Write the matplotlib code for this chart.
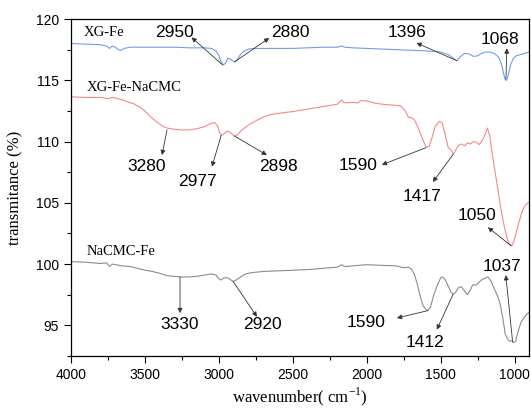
import matplotlib
matplotlib.use('Agg')
import matplotlib.pyplot as plt
from matplotlib.ticker import MultipleLocator

plt.rcParams['mathtext.fontset'] = 'custom'
plt.rcParams['mathtext.rm'] = 'Liberation Serif'

# wavenumber (cm-1) and transmittance (%)
xg_x = [4000, 3900, 3800, 3760, 3740, 3720, 3700, 3680, 3660, 3640,
        3600, 3500, 3400, 3300, 3200, 3100, 3050, 3020, 3000, 2985,
        2970, 2955, 2940, 2925, 2910, 2895, 2880, 2860, 2840, 2800,
        2750, 2700, 2600, 2500, 2400, 2300, 2200, 2170, 2160, 2150,
        2100, 2000, 1900, 1800, 1700, 1600, 1550, 1500, 1450, 1420,
        1400, 1390, 1370, 1340, 1310, 1280, 1250, 1225, 1200, 1170,
        1140, 1110, 1090, 1075, 1065, 1055, 1045, 1030, 1010, 990,
        960, 930, 900]
xg_y = [118.0, 117.95, 117.9, 117.8, 117.6, 117.8, 117.7, 117.5, 117.45, 117.6,
        117.7, 117.7, 117.7, 117.7, 117.65, 117.65, 117.6, 117.4, 117.0, 116.5,
        116.25, 116.4, 116.8, 116.75, 116.6, 116.5, 116.6, 117.0, 117.3, 117.55,
        117.6, 117.6, 117.6, 117.6, 117.65, 117.7, 117.7, 117.8, 117.75, 117.7,
        117.65, 117.6, 117.55, 117.5, 117.45, 117.4, 117.35, 117.3, 117.1, 116.85,
        116.65, 116.6, 116.9, 117.2, 117.15, 116.95, 117.0, 117.2, 117.3, 117.3,
        117.2, 116.9, 116.3, 115.5, 115.05, 115.0, 115.4, 116.2, 116.8, 117.0,
        117.1, 117.2, 117.35]

mix_x = [4000, 3900, 3800, 3750, 3720, 3700, 3650, 3620, 3580, 3540,
         3500, 3460, 3420, 3380, 3350, 3300, 3250, 3200, 3150, 3100,
         3060, 3030, 3010, 2995, 2980, 2960, 2945, 2930, 2910, 2895,
         2880, 2850, 2800, 2750, 2700, 2650, 2600, 2500, 2400, 2300,
         2200, 2170, 2160, 2140, 2100, 2060, 2040, 2000, 1950, 1900,
         1850, 1800, 1770, 1740, 1720, 1700, 1680, 1660, 1640, 1620,
         1600, 1580, 1560, 1540, 1510, 1490, 1470, 1450, 1430, 1415,
         1400, 1380, 1360, 1340, 1320, 1300, 1280, 1260, 1240, 1220,
         1200, 1185, 1170, 1150, 1120, 1090, 1070, 1050, 1035, 1020,
         1005, 990, 970, 950, 930, 910, 900]
mix_y = [113.65, 113.6, 113.6, 113.5, 113.6, 113.55, 113.4, 113.25, 113.1, 112.85,
         112.5, 112.0, 111.6, 111.25, 111.1, 111.0, 110.95, 110.95, 111.05, 111.2,
         111.45, 111.55, 111.3, 110.7, 110.5, 110.7, 110.85, 110.8, 110.6, 110.45,
         110.5, 110.9, 111.35, 111.7, 112.0, 112.2, 112.3, 112.45, 112.65, 112.85,
         113.05, 113.4, 113.2, 113.15, 113.2, 113.15, 113.35, 113.3, 113.15, 113.05,
         113.0, 112.95, 112.9, 112.5, 112.0, 111.95, 111.8, 111.3, 110.7, 110.1,
         109.55, 109.6, 110.3, 111.2, 111.65, 111.5, 110.5, 109.5, 109.3, 108.95,
         109.3, 109.7, 109.8, 109.65, 109.9, 109.8, 110.0, 109.95, 109.75, 110.1,
         110.6, 111.1, 110.5, 108.8, 106.5, 104.2, 103.0, 102.0, 101.6, 101.5,
         101.9, 102.6, 103.5, 104.3, 104.8, 105.0, 105.1]

cmc_x = [4000, 3900, 3800, 3760, 3740, 3720, 3700, 3650, 3600, 3550,
         3500, 3450, 3400, 3350, 3300, 3250, 3200, 3150, 3100, 3050,
         3020, 3000, 2985, 2970, 2950, 2935, 2920, 2905, 2890, 2860,
         2820, 2780, 2700, 2600, 2500, 2400, 2300, 2200, 2170, 2160,
         2140, 2100, 2050, 2000, 1900, 1800, 1750, 1720, 1700, 1680,
         1660, 1640, 1620, 1600, 1588, 1570, 1550, 1520, 1500, 1485,
         1470, 1450, 1430, 1415, 1400, 1380, 1360, 1340, 1320, 1300,
         1285, 1260, 1240, 1220, 1200, 1182, 1160, 1140, 1120, 1100,
         1080, 1065, 1050, 1035, 1020, 1010, 995, 980, 960, 940,
         920, 900]
cmc_y = [100.2, 100.15, 100.05, 100.1, 99.8, 100.0, 99.95, 99.85, 99.8, 99.65,
         99.5, 99.4, 99.25, 99.05, 99.0, 98.95, 98.95, 99.0, 99.1, 99.2,
         99.1, 98.8, 98.7, 98.85, 98.9, 98.85, 98.7, 98.6, 98.65, 98.9,
         99.2, 99.3, 99.4, 99.45, 99.5, 99.55, 99.65, 99.75, 99.95, 99.85,
         99.8, 99.85, 99.9, 99.95, 99.9, 99.85, 99.7, 99.75, 99.6, 99.2,
         98.4, 97.4, 96.6, 96.3, 96.2, 96.5, 97.4, 98.4, 98.9, 98.95,
         98.7, 98.2, 97.7, 97.55, 97.7, 98.1, 98.15, 97.8, 97.5, 97.9,
         98.3, 98.3, 98.55, 98.75, 98.85, 98.95, 98.6, 98.0, 97.5, 96.8,
         95.5, 94.3, 93.9, 93.7, 93.75, 93.6, 93.7, 94.4, 95.2, 95.6,
         95.9, 96.1]

# peak labels: text, peak point, arrow head, text position
peak_labels = ['2950', '2880', '1396', '1068',
               '3280', '2977', '2898', '1590', '1417', '1050',
               '3330', '2920', '1590', '1412', '1037']
peak_from = [(2975, 116.25), (2895, 116.5), (1392, 116.6), (1060, 115.1),
             (3351, 110.95), (2985, 110.5), (2895, 110.45), (1601, 109.5), (1417, 108.95), (1025, 101.5),
             (3263, 98.95), (2905, 98.6), (1588, 96.2), (1417, 97.55), (1015, 93.65)]
peak_head = [(3185, 118.5), (2660, 118.45), (1665, 118.05), (1054, 117.6),
             (3385, 108.9), (3047, 107.95), (2676, 108.9), (1899, 108.1), (1554, 106.7), (1182, 103.0),
             (3263, 96.0), (2743, 95.7), (1797, 95.6), (1527, 94.65), (1061, 99.1)]
peak_text = [(3297, 118.86), (2520, 118.86), (1730, 118.86), (1101, 118.3),
             (3486, 107.95), (3142, 106.7), (2600, 107.96), (2061, 108.05), (1629, 105.5), (1257, 104.0),
             (3263, 95.05), (2703, 95.05), (2007, 95.2), (1608, 93.6), (1088, 99.8)]

series_names = ['XG-Fe', 'XG-Fe-NaCMC', 'NaCMC-Fe']
name_pos = [(3915, 118.86), (3895, 114.45), (3895, 101.0)]
colors = ['#6f9fe8', '#f08a8a', '#8c8c8c']

fig = plt.figure(figsize=(5.31, 4.09), dpi=100)
ax = fig.add_axes([0.1337, 0.1296, 0.8623, 0.8239])

ax.plot(xg_x, xg_y, color=colors[0], lw=0.8)
ax.plot(mix_x, mix_y, color=colors[1], lw=0.8)
ax.plot(cmc_x, cmc_y, color=colors[2], lw=0.8)

for lab, p0, p1, pt in zip(peak_labels, peak_from, peak_head, peak_text):
    ax.annotate('', xy=p1, xytext=p0,
                arrowprops=dict(arrowstyle='-|>', color='#333333', lw=0.6,
                                mutation_scale=7, shrinkA=0, shrinkB=0))
    ax.text(pt[0], pt[1], lab, fontsize=12.5, family='Liberation Sans',
            ha='center', va='center')

for name, pos in zip(series_names, name_pos):
    ax.text(pos[0], pos[1], name, fontsize=10.5, family='Liberation Serif',
            ha='left', va='center')

ax.set_xlim(4000, 905)
ax.set_ylim(92.5, 120)
ax.xaxis.set_major_locator(MultipleLocator(500))
ax.xaxis.set_minor_locator(MultipleLocator(250))
ax.yaxis.set_major_locator(MultipleLocator(5))
ax.yaxis.set_minor_locator(MultipleLocator(2.5))
ax.tick_params(which='major', direction='out', length=5, width=0.8, labelsize=10)
ax.tick_params(which='minor', direction='out', length=3, width=0.8)
for t in ax.get_xticklabels() + ax.get_yticklabels():
    t.set_family('Liberation Sans')
for s in ax.spines.values():
    s.set_linewidth(0.9)

ax.set_xlabel('wavenumber( cm$^{-1}$)', fontsize=12, family='Liberation Serif', va='center')
ax.set_ylabel('transmitance (%)', fontsize=12, family='Liberation Serif', va='center')
ax.xaxis.set_label_coords(0.5, -0.122)
ax.yaxis.set_label_coords(-0.122, 0.5)

fig.savefig('out.png', dpi=100)
